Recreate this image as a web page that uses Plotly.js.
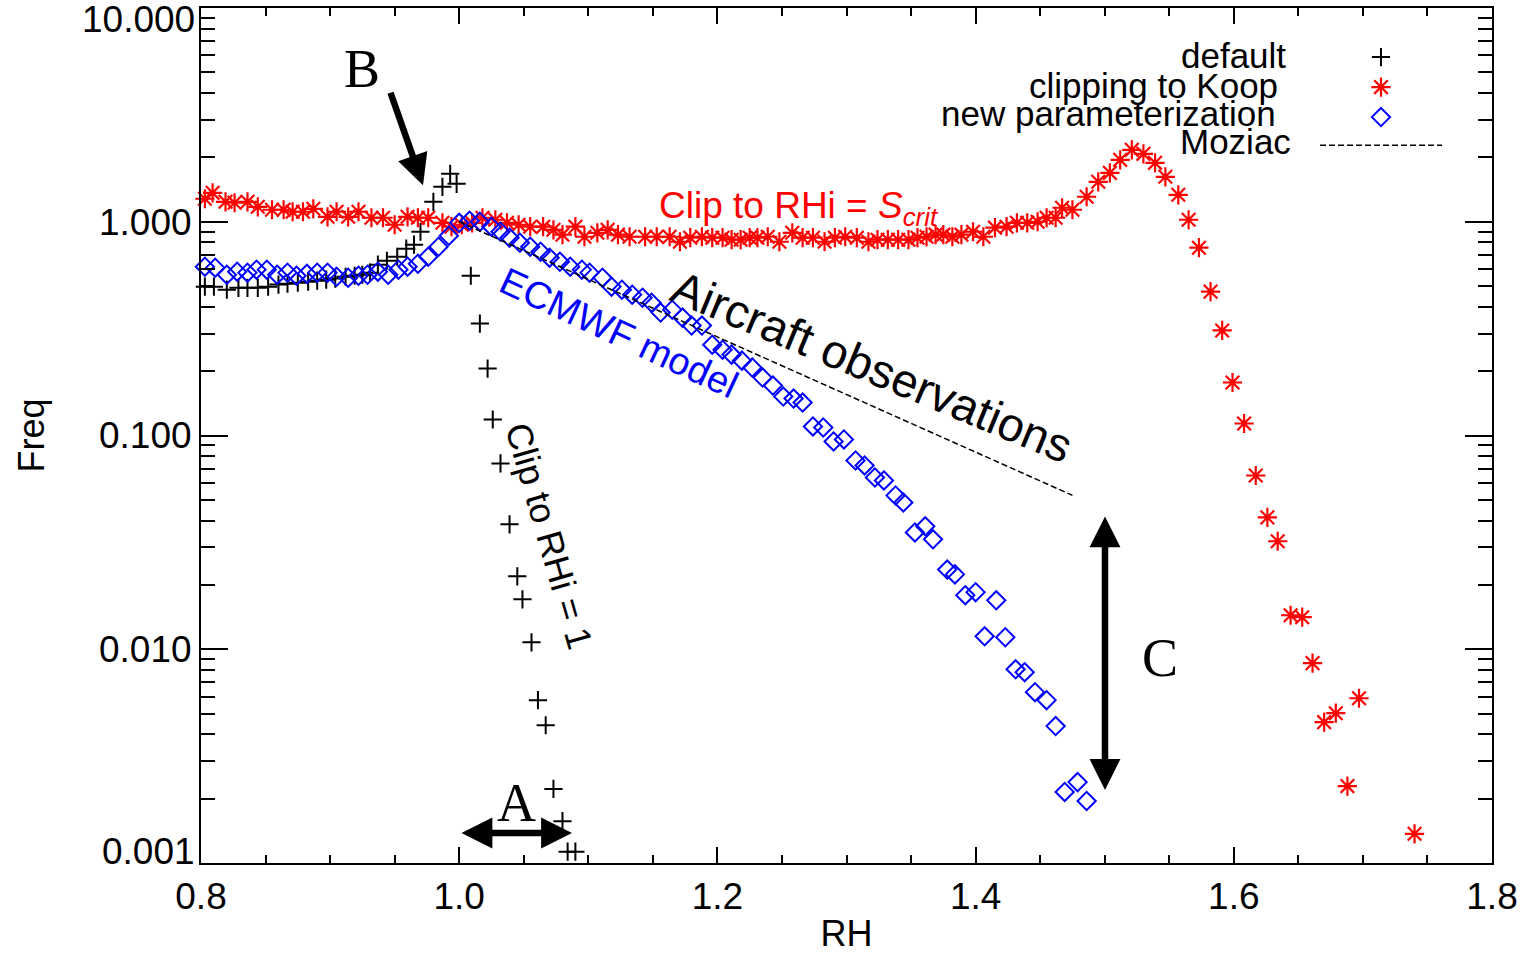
<!DOCTYPE html>
<html>
<head>
<meta charset="utf-8">
<script src="https://cdn.plot.ly/plotly-3.0.1.min.js"></script>
<style>
  html, body { margin: 0; padding: 0; background: #ffffff; }
  #chart { width: 1524px; height: 954px; }
</style>
</head>
<body>
<div id="chart"></div>
<script>
// ---------------- data ----------------
const defaultRH = [
  0.803, 0.810, 0.820, 0.829, 0.836, 0.844, 0.852, 0.860, 0.867, 0.875,
  0.883, 0.890, 0.897, 0.904, 0.912, 0.919, 0.925, 0.931, 0.937, 0.944,
  0.952, 0.959, 0.965, 0.970, 0.980, 0.987, 0.993, 0.998,
  1.009, 1.016, 1.022, 1.026, 1.032, 1.039, 1.045, 1.049, 1.056, 1.061,
  1.067, 1.073, 1.080, 1.084, 1.090
];
const defaultFreq = [
  0.497, 0.497, 0.481, 0.491, 0.491, 0.491, 0.497, 0.508, 0.513, 0.519,
  0.524, 0.530, 0.536, 0.542, 0.553, 0.559, 0.565, 0.578, 0.630, 0.657,
  0.686, 0.748, 0.781, 0.898, 1.240, 1.457, 1.676, 1.505,
  0.559, 0.334, 0.2056, 0.1188, 0.0740, 0.0384, 0.02194, 0.01713, 0.01078, 0.00578,
  0.00441, 0.00222, 0.00157, 0.00113, 0.00113
];

const koopRH = [
  0.803, 0.809, 0.819, 0.826, 0.836, 0.844, 0.855, 0.864, 0.871, 0.879,
  0.887, 0.898, 0.905, 0.914, 0.922, 0.932, 0.941, 0.950, 0.960, 0.968,
  0.976, 0.987, 0.994, 1.002, 1.010, 1.018, 1.028, 1.037, 1.046, 1.055,
  1.065, 1.073, 1.080, 1.090, 1.097, 1.107, 1.115, 1.123, 1.132, 1.144,
  1.153, 1.163, 1.171, 1.179, 1.188, 1.196, 1.204, 1.211, 1.218, 1.225,
  1.231, 1.239, 1.248, 1.258, 1.266, 1.274, 1.283, 1.291, 1.299, 1.308,
  1.317, 1.324, 1.332, 1.340, 1.348, 1.355, 1.362, 1.369, 1.375, 1.382,
  1.389, 1.398, 1.406, 1.415, 1.424, 1.432, 1.440, 1.448, 1.455, 1.462,
  1.467, 1.475, 1.486, 1.495, 1.504, 1.512, 1.521, 1.530,
  1.539, 1.547, 1.557, 1.565, 1.573, 1.582, 1.591, 1.599, 1.608, 1.617,
  1.626, 1.634, 1.644, 1.653, 1.661, 1.670, 1.679, 1.688, 1.697, 1.740
];
const koopFreq = [
  1.281, 1.366, 1.240, 1.227, 1.240, 1.175, 1.138, 1.138, 1.114, 1.114,
  1.150, 1.055, 1.114, 1.055, 1.114, 1.044, 1.044, 0.968, 1.055, 1.044,
  1.044, 0.989, 0.948, 0.968, 0.989, 1.044, 1.022, 0.989, 0.968, 0.948,
  0.948, 0.917, 0.870, 0.948, 0.851, 0.888, 0.917, 0.870, 0.851, 0.851,
  0.851, 0.851, 0.806, 0.842, 0.851, 0.842, 0.842, 0.824, 0.824, 0.842,
  0.842, 0.851, 0.806, 0.888, 0.842, 0.842, 0.806, 0.842, 0.851, 0.842,
  0.806, 0.824, 0.824, 0.824, 0.824, 0.842, 0.851, 0.870, 0.870, 0.851,
  0.870, 0.898, 0.851, 0.938, 0.948, 0.989, 0.989, 1.000, 1.044, 1.044,
  1.163, 1.138, 1.309, 1.538, 1.694, 1.949, 2.170, 2.078,
  1.887, 1.623, 1.337, 1.022, 0.756, 0.471, 0.310, 0.177, 0.1138, 0.0650,
  0.0414, 0.0320, 0.01442, 0.01412, 0.00861, 0.00456, 0.00502, 0.00229, 0.00590, 0.00137
];

const newRH = [
  0.803, 0.811, 0.820, 0.828, 0.836, 0.843, 0.851, 0.859, 0.867, 0.874,
  0.882, 0.890, 0.898, 0.905, 0.914, 0.922, 0.929, 0.937, 0.945, 0.953,
  0.960, 0.968, 0.976, 0.984, 0.992, 1.000,
  1.008, 1.016, 1.025, 1.032,
  1.039, 1.047, 1.055, 1.063, 1.070, 1.078, 1.086, 1.095, 1.101, 1.111,
  1.118, 1.126, 1.134, 1.142, 1.149, 1.156, 1.165, 1.173, 1.180, 1.188,
  1.196, 1.204, 1.211, 1.219, 1.227, 1.235, 1.243, 1.251, 1.259, 1.266,
  1.274, 1.282, 1.290, 1.298, 1.307, 1.314, 1.322, 1.329, 1.338, 1.344,
  1.353, 1.361, 1.367, 1.378, 1.384, 1.392, 1.400, 1.407, 1.416, 1.423,
  1.431, 1.438, 1.446, 1.455, 1.462, 1.469, 1.479, 1.486
];
const newFreq = [
  0.616, 0.610, 0.565, 0.584, 0.578, 0.597, 0.597, 0.565, 0.578, 0.559,
  0.571, 0.578, 0.578, 0.553, 0.547, 0.559, 0.565, 0.584, 0.565, 0.597,
  0.616, 0.636, 0.686, 0.764, 0.860, 0.989,
  1.011, 1.000, 0.948, 0.898,
  0.842, 0.798, 0.764, 0.724, 0.679, 0.650, 0.616, 0.597, 0.578, 0.547,
  0.497, 0.481, 0.456, 0.441, 0.418, 0.376, 0.388, 0.356, 0.327, 0.327,
  0.266, 0.252, 0.239, 0.224, 0.208, 0.1866, 0.1713, 0.1521, 0.1489, 0.1426,
  0.1102, 0.1090, 0.0938, 0.0958, 0.0764, 0.0724, 0.0636, 0.0616, 0.0524, 0.0486,
  0.0352, 0.0376, 0.0327, 0.0236, 0.0224, 0.0179, 0.0185, 0.0115, 0.01694, 0.01138,
  0.00806, 0.00781, 0.00630, 0.00578, 0.00437, 0.00215, 0.00239, 0.00195
];

const moziacRH = [1.000, 1.475];
const moziacFreq = [1.000, 0.0525];

const seriesNames = ['default', 'clipping to Koop', 'new parameterization', 'Moziac'];
const xTitle = 'RH';
const yTitle = 'Freq';
const yTickVals = [0.001, 0.01, 0.1, 1, 10];
const yTickText = ['', '0.010', '0.100', '1.000', ''];
const yEndLabels = ['10.000', '0.001'];

// ---------------- styling ----------------
const SANS = '"Liberation Sans", Arial, Helvetica, sans-serif';
const SERIF = '"Liberation Serif", "Times New Roman", serif';
const RED = '#ff0000';
const BLUE = '#0000ff';
const BLACK = '#000000';

const mDefault = { symbol: 'cross-thin', size: 13, color: BLACK, line: { width: 2, color: BLACK } };
const mKoop = { symbol: 'asterisk-open', size: 16, color: RED, line: { width: 2.2, color: RED } };
const mNew = { symbol: 'diamond-open', size: 14, color: BLUE, line: { width: 2, color: BLUE } };
const lMoziac = { color: BLACK, width: 1.5, dash: '6px,3px' };

const traces = [
  { x: defaultRH, y: defaultFreq, type: 'scatter', mode: 'markers', name: seriesNames[0],
    marker: mDefault, cliponaxis: false, showlegend: false },
  { x: koopRH, y: koopFreq, type: 'scatter', mode: 'markers', name: seriesNames[1],
    marker: mKoop, cliponaxis: false, showlegend: false },
  { x: newRH, y: newFreq, type: 'scatter', mode: 'markers', name: seriesNames[2],
    marker: mNew, cliponaxis: false, showlegend: false },
  { x: moziacRH, y: moziacFreq, type: 'scatter', mode: 'lines', name: seriesNames[3],
    line: lMoziac, showlegend: false }
];

// legend keys (drawn on an invisible overlay axis in 0..1 plot fractions)
const keyX = 0.914;
const keyRows = [0.9426, 0.9075, 0.8724, 0.8396];
traces.push({ x: [keyX], y: [keyRows[0]], xaxis: 'x2', yaxis: 'y2', type: 'scatter', mode: 'markers',
  marker: mDefault, cliponaxis: false, showlegend: false, hoverinfo: 'skip' });
traces.push({ x: [keyX], y: [keyRows[1]], xaxis: 'x2', yaxis: 'y2', type: 'scatter', mode: 'markers',
  marker: mKoop, cliponaxis: false, showlegend: false, hoverinfo: 'skip' });
traces.push({ x: [keyX], y: [keyRows[2]], xaxis: 'x2', yaxis: 'y2', type: 'scatter', mode: 'markers',
  marker: mNew, cliponaxis: false, showlegend: false, hoverinfo: 'skip' });
traces.push({ x: [0.8668, 0.9613], y: [keyRows[3], keyRows[3]], xaxis: 'x2', yaxis: 'y2', type: 'scatter', mode: 'lines',
  line: lMoziac, cliponaxis: false, showlegend: false, hoverinfo: 'skip' });

const legendTextRight = [0.8420, 0.8358, 0.8342, 0.8459];
const legendTextY = [0.9450, 0.9098, 0.8770, 0.8443];

// helpers: pixel position in the 1524x954 frame -> paper fraction
const PX = (px) => (px - 201) / 1291;
const PY = (py) => (863 - py) / 854;

const annotations = [];
seriesNames.forEach((n, i) => {
  annotations.push({ xref: 'paper', yref: 'paper', x: legendTextRight[i], y: legendTextY[i],
    xanchor: 'right', yanchor: 'middle', text: n, showarrow: false,
    font: { family: SANS, size: 35, color: BLACK } });
});

// end labels of the log axis (nudged inside the frame, as in the original)
annotations.push(
  { xref: 'paper', yref: 'paper', x: PX(197), y: PY(20), xanchor: 'right', yanchor: 'middle',
    text: yEndLabels[0], showarrow: false, font: { family: SANS, size: 37, color: BLACK } },
  { xref: 'paper', yref: 'paper', x: PX(197), y: PY(852), xanchor: 'right', yanchor: 'middle',
    text: yEndLabels[1], showarrow: false, font: { family: SANS, size: 37, color: BLACK } }
);

const arrowStyle = { showarrow: true, arrowhead: 2, arrowsize: 0.95, arrowwidth: 6.5, arrowcolor: BLACK,
  text: '', standoff: 0, startstandoff: 0, xanchor: 'center', yanchor: 'middle' };
const centered = { xref: 'paper', yref: 'paper', xanchor: 'center', yanchor: 'middle', showarrow: false };

annotations.push(
  // letters
  Object.assign({ x: PX(362), y: PY(70), text: 'B', font: { family: SERIF, size: 54, color: BLACK } }, centered),
  Object.assign({ x: PX(516), y: PY(803), text: 'A', font: { family: SERIF, size: 54, color: BLACK } }, centered),
  Object.assign({ x: PX(1160), y: PY(658), text: 'C', font: { family: SERIF, size: 54, color: BLACK } }, centered),
  // arrows
  Object.assign({ xref: 'paper', yref: 'paper', x: PX(423), y: PY(186), ax: -33, ay: -94 }, arrowStyle),
  Object.assign({ xref: 'paper', yref: 'paper', x: PX(572), y: PY(833), ax: -112, ay: 0,
    arrowside: 'end+start', startarrowhead: 2, startarrowsize: 0.95 }, arrowStyle),
  Object.assign({ xref: 'paper', yref: 'paper', x: PX(1105), y: PY(790), ax: 0, ay: -275,
    arrowside: 'end+start', startarrowhead: 2, startarrowsize: 0.95 }, arrowStyle),
  // in-plot labels
  { xref: 'paper', yref: 'paper', x: PX(657), y: PY(209), xanchor: 'left', yanchor: 'middle',
    text: 'Clip to RHi = <i>S</i><sub><i>crit</i></sub>', showarrow: false,
    font: { family: SANS, size: 37, color: RED } },
  Object.assign({ x: PX(872), y: PY(367), text: 'Aircraft observations', textangle: 22.5,
    font: { family: SANS, size: 47, color: BLACK } }, centered),
  Object.assign({ x: PX(619), y: PY(334), text: 'ECMWF model', textangle: 25,
    font: { family: SANS, size: 38, color: BLUE } }, centered),
  Object.assign({ x: PX(549), y: PY(536), text: 'Clip to RHi = 1', textangle: 74,
    font: { family: SANS, size: 36, color: BLACK } }, centered)
);

const axisCommon = {
  showgrid: false, zeroline: false, showline: true, linecolor: BLACK, linewidth: 2,
  mirror: 'ticks', ticks: 'inside', tickcolor: BLACK, tickwidth: 2,
  tickfont: { family: SANS, size: 37, color: BLACK }
};

const layout = {
  width: 1524, height: 954,
  margin: { l: 201, r: 32, t: 8, b: 91, pad: 0 },
  paper_bgcolor: '#ffffff', plot_bgcolor: '#ffffff',
  showlegend: false,
  font: { family: SANS, color: BLACK },
  xaxis: Object.assign({}, axisCommon, {
    range: [0.8, 1.8], tick0: 0.8, dtick: 0.2, tickformat: '.1f', ticklen: 16,
    minor: { dtick: 0.05, ticks: 'inside', ticklen: 8, tickwidth: 2, tickcolor: BLACK, showgrid: false },
    title: { text: xTitle, font: { family: SANS, size: 36, color: BLACK }, standoff: 31 }
  }),
  yaxis: Object.assign({}, axisCommon, {
    type: 'log', range: [-3, 1], tickmode: 'array', tickvals: yTickVals, ticktext: yTickText, ticklen: 27,
    minor: { dtick: 'D1', ticks: 'inside', ticklen: 14, tickwidth: 2, tickcolor: BLACK, showgrid: false },
    title: { text: yTitle, font: { family: SANS, size: 36, color: BLACK }, standoff: 43 }
  }),
  xaxis2: { overlaying: 'x', range: [0, 1], visible: false, fixedrange: true },
  yaxis2: { overlaying: 'y', range: [0, 1], visible: false, fixedrange: true },
  annotations: annotations
};

Plotly.newPlot('chart', traces, layout, { displayModeBar: false, staticPlot: true });
</script>
</body>
</html>
